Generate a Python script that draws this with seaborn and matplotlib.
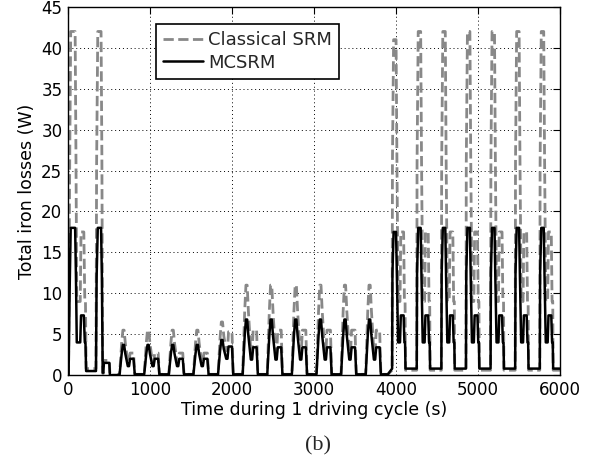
import numpy as np
import pandas as pd
import matplotlib
matplotlib.use('Agg')
import matplotlib.pyplot as plt
import seaborn as sns

# first 600 s: two fast segments, the second one without the mid part
t_start = [0, 8, 22, 34, 88, 98, 108, 150, 160, 194, 206, 214, 222, 342, 350, 364, 404, 414, 424, 432, 438, 505, 512, 600]
mcsrm_start = [0, 0, 11, 18, 18, 12, 4, 4, 7.3, 7.3, 4, 4, 0.5, 0.5, 12, 18, 18, 12, 0.3, 0.3, 1.5, 1.5, 0, 0]
srm_start = [0, 0, 26, 42, 42, 27, 9, 9, 17.5, 17.5, 9, 9, 0.8, 0.8, 26, 42, 42, 27, 0.2, 0.2, 1.8, 1.8, 0, 0]

# urban segments (300 s each), offsets inside a segment
off_urban = [0, 30, 55, 70, 85, 100, 130, 145, 158, 200, 215, 300]
mcsrm_small = [0.1, 0.1, 2.6, 3.7, 3.7, 2.6, 1.1, 1.1, 2.0, 2.0, 0.1, 0.1]
srm_small = [0.1, 0.1, 3.9, 5.5, 5.5, 3.9, 1.6, 1.6, 2.7, 2.7, 0.1, 0.1]
mcsrm_mid = [0.1, 0.1, 3.0, 4.3, 4.3, 3.2, 2.0, 2.0, 3.5, 3.5, 0.1, 0.1]
srm_mid = [0.1, 0.1, 4.6, 6.5, 6.5, 4.8, 3.0, 3.0, 5.3, 5.3, 0.1, 0.1]
mcsrm_medium = [0.1, 0.1, 4.8, 6.8, 6.8, 4.8, 1.9, 1.9, 3.4, 3.4, 0.1, 0.1]
srm_medium = [0.1, 0.1, 7.8, 11.0, 11.0, 7.8, 2.8, 2.8, 5.5, 5.5, 0.1, 0.1]

# fast segments
off_fast = [0, 52, 56, 70, 100, 110, 125, 148, 158, 192, 202, 210, 215, 300]
mcsrm_fast = [0.8, 0.8, 12.5, 18, 18, 12, 4, 4, 7.3, 7.3, 4, 4, 0.8, 0.8]
srm_fast = [0.6, 0.6, 26, 42, 42, 27, 9, 9, 17.5, 17.5, 9, 9, 0.6, 0.6]
fast_peak_mcsrm = [17.5, 18, 18, 18, 18, 18, 18]
fast_peak_srm = [41, 42, 42, 42, 42, 42, 42]

seg_start = [600, 900, 1200, 1500, 1800, 2100, 2400, 2700, 3000, 3300, 3600,
             3900, 4200, 4500, 4800, 5100, 5400, 5700]
seg_kind = ['small'] * 4 + ['mid'] + ['medium'] * 6 + ['fast'] * 7

profiles = {
    'small': (off_urban, mcsrm_small, srm_small),
    'mid': (off_urban, mcsrm_mid, srm_mid),
    'medium': (off_urban, mcsrm_medium, srm_medium),
    'fast': (off_fast, mcsrm_fast, srm_fast),
}

t_all = list(t_start)
b_all = list(mcsrm_start)
g_all = list(srm_start)
k_fast = 0
for t0, kind in zip(seg_start, seg_kind):
    off, b, g = profiles[kind]
    b = list(b)
    g = list(g)
    if kind == 'fast':
        b[3] = b[4] = fast_peak_mcsrm[k_fast]
        g[3] = g[4] = fast_peak_srm[k_fast]
        k_fast += 1
    # skip first point, previous segment already ends at t0
    t_all += [t0 + o for o in off[1:]]
    b_all += b[1:]
    g_all += g[1:]

df = pd.DataFrame({'t': t_all, 'srm': g_all, 'mcsrm': b_all})

sns.set_theme(style='white')
plt.rcParams['font.family'] = ['DejaVu Sans']

fig, ax = plt.subplots(figsize=(6.01, 4.62), dpi=100)
fig.subplots_adjust(left=0.113, right=0.932, bottom=0.188, top=0.985)

sns.lineplot(data=df, x='t', y='srm', estimator=None, sort=False, color='#888888',
             lw=2, linestyle='--', label='Classical SRM', ax=ax)
sns.lineplot(data=df, x='t', y='mcsrm', estimator=None, sort=False, color='black',
             lw=1.8, label='MCSRM', ax=ax)

ax.set_xlim(0, 6000)
ax.set_ylim(0, 45)
ax.set_xticks(range(0, 6001, 1000))
ax.set_yticks(range(0, 46, 5))
ax.grid(True, color='black', linestyle=(0, (1, 3)), lw=0.7)
ax.tick_params(direction='in', top=True, right=True, length=5, width=0.8,
               labelsize=12, colors='black', pad=4)
for s in ax.spines.values():
    s.set_color('black')
    s.set_linewidth(1)

ax.set_xlabel('Time during 1 driving cycle (s)', fontsize=12.5, labelpad=2, color='black')
ax.set_ylabel('Total iron losses (W)', fontsize=12.5, labelpad=4, color='black')

leg = ax.legend(loc='upper left', bbox_to_anchor=(0.179, 0.954), borderaxespad=0,
                fancybox=False, edgecolor='black', framealpha=1, fontsize=13,
                handlelength=2.2, handletextpad=0.3, borderpad=0.4, labelspacing=0.25)
leg.get_frame().set_linewidth(1.2)

fig.text(0.529, 0.035, '(b)', family='Liberation Serif', fontsize=16, ha='center', va='center')

plt.savefig('out.png', dpi=100)
